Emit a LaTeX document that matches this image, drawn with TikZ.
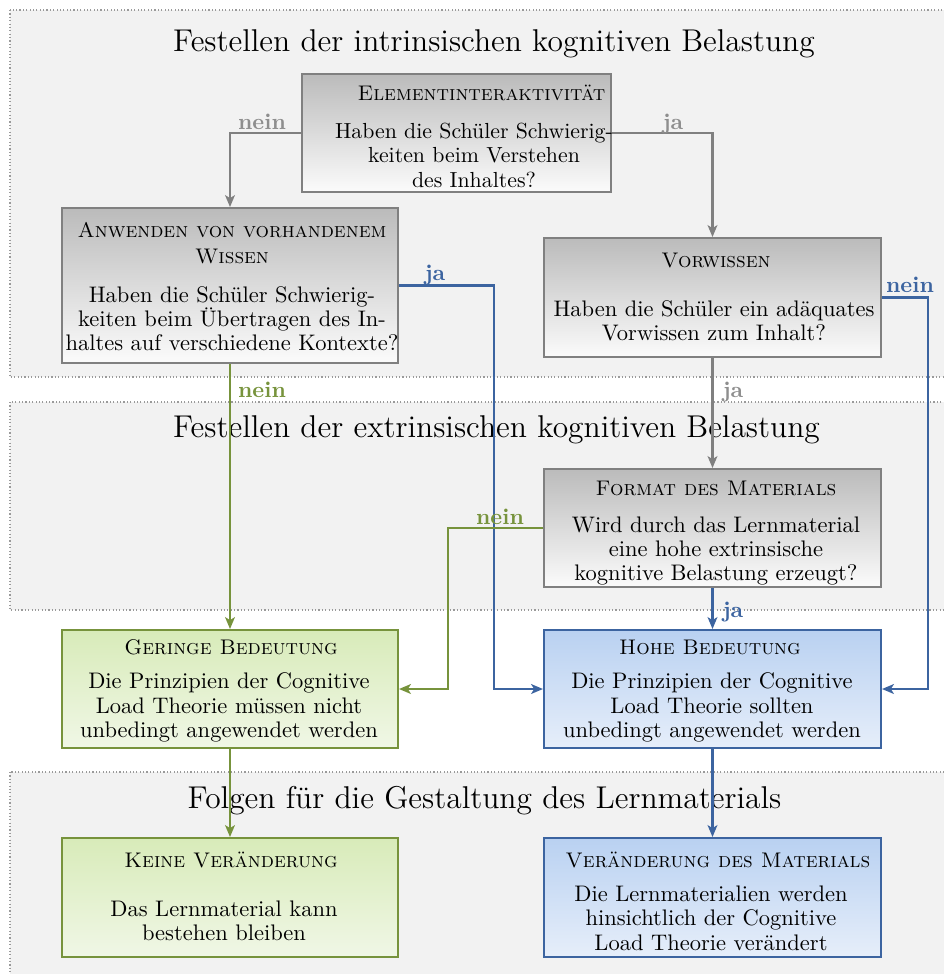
\documentclass[tikz,border=0pt]{standalone}
\usetikzlibrary{arrows.meta}
\definecolor{pnl}{HTML}{F2F2F2}
\definecolor{pnlb}{HTML}{9A9A9A}
\definecolor{grayline}{HTML}{808080}
\definecolor{graylbl}{HTML}{8E8E8E}
\definecolor{cblue}{HTML}{3C64A0}
\definecolor{cgreen}{HTML}{77933C}
\definecolor{gtop}{HTML}{BBBBBB}
\definecolor{gbot}{HTML}{FBFBFB}
\definecolor{grtop}{HTML}{D8EBB9}
\definecolor{grbot}{HTML}{F0F7E6}
\definecolor{bltop}{HTML}{B9D1F1}
\definecolor{blbot}{HTML}{E6EEFA}
\newcommand\pxl{0.4444pt}
\begin{document}
\begin{tikzpicture}[x=0.4444pt,y=-0.4444pt,
  panelbox/.style={fill=pnl, draw=pnlb, densely dotted, line width=0.5pt},
  ttl/.style={font=\fontsize{14}{17}\selectfont, anchor=base, inner sep=0},
  boxbase/.style={rectangle, inner sep=0, line width=0.9pt},
  graybox/.style={boxbase, draw=grayline, top color=gtop, bottom color=gbot},
  greenbox/.style={boxbase, draw=cgreen, top color=grtop, bottom color=grbot},
  bluebox/.style={boxbase, draw=cblue, top color=bltop, bottom color=blbot},
  hd/.style={font=\fontsize{9.4}{11.6}\selectfont\scshape, anchor=base, inner sep=0},
  hdm/.style={font=\fontsize{9.4}{11.6}\selectfont\scshape, align=center, inner sep=0},
  bd/.style={font=\fontsize{10}{10.8}\selectfont, align=center, inner sep=0},
  conn/.style={line width=0.9pt, -{Stealth[length=5.3pt,width=4.4pt,inset=1.4pt]}},
  lbl/.style={font=\fontsize{10}{12}\selectfont\bfseries, anchor=base, inner sep=0},
]
\useasboundingbox (0,0) rectangle (944,974);

% panels
\path[panelbox] (10,10) rectangle (990,377);
\path[panelbox] (10,402) rectangle (990,610);
\path[panelbox] (10,772) rectangle (990,1000);

% titles
\node[ttl] (t1) at (494,51) {Festellen der intrinsischen kognitiven Belastung};
\node[ttl] (t2) at (496.5,437) {Festellen der extrinsischen kognitiven Belastung};
\node[ttl] (t3) at (484.5,808) {Folgen für die Gestaltung des Lernmaterials};

% boxes
\node[graybox, minimum width=309*\pxl, minimum height=118*\pxl] (b1) at (456.5,133) {};
\node[graybox, minimum width=336*\pxl, minimum height=155*\pxl] (b2) at (230,285.5) {};
\node[graybox, minimum width=337*\pxl, minimum height=119*\pxl] (b3) at (712.5,297.5) {};
\node[graybox, minimum width=337*\pxl, minimum height=118*\pxl] (b4) at (712.5,528) {};
\node[greenbox, minimum width=336*\pxl, minimum height=118*\pxl] (b5) at (230,689) {};
\node[bluebox, minimum width=337*\pxl, minimum height=118*\pxl] (b6) at (712.5,689) {};
\node[greenbox, minimum width=336*\pxl, minimum height=119*\pxl] (b7) at (230,897.5) {};
\node[bluebox, minimum width=337*\pxl, minimum height=119*\pxl] (b8) at (712.5,897.5) {};

% box texts
\node[hd] (b1h) at (481.5,100) {Elementinteraktivität};
\node[bd, font=\fontsize{9.7}{10.8}\selectfont] (b1t) at (474,155.2) {Haben die Schüler Schwierig-\\keiten beim Verstehen\\des Inhaltes?};
\node[hdm] (b2h) at (232,242.8) {Anwenden von vorhandenem\\Wissen};
\node[bd] (b2t) at (232,318.7) {Haben die Schüler Schwierig-\\keiten beim Übertragen des In-\\haltes auf verschiedene Kontexte?};
\node[hd] (b3h) at (716,267) {Vorwissen};
\node[bd] (b3t) at (714,320.7) {Haben die Schüler ein adäquates\\Vorwissen zum Inhalt?};
\node[hd] (b4h) at (716,495) {Format des Materials};
\node[bd] (b4t) at (716,550.9) {Wird durch das Lernmaterial\\eine hohe extrinsische\\kognitive Belastung erzeugt?};
\node[hd] (b5h) at (231,654) {Geringe Bedeutung};
\node[bd] (b5t) at (229,707.4) {Die Prinzipien der Cognitive\\Load Theorie müssen nicht\\unbedingt angewendet werden};
\node[hd] (b6h) at (710,654) {Hohe Bedeutung};
\node[bd] (b6t) at (712,707.4) {Die Prinzipien der Cognitive\\Load Theorie sollten\\unbedingt angewendet werden};
\node[hd] (b7h) at (231,867) {Keine Veränderung};
\node[bd] (b7t) at (224,920.7) {Das Lernmaterial kann\\bestehen bleiben};
\node[hd] (b8h) at (718,867) {Veränderung des Materials};
\node[bd] (b8t) at (711,918.2) {Die Lernmaterialien werden\\hinsichtlich der Cognitive\\Load Theorie verändert};

% helper coordinates
\coordinate (xa) at (494,0);
\coordinate (xb) at (928,0);
\coordinate (xc) at (447.6,0);

% connectors
\draw[conn, grayline] (b1.west) -| (b2.north);
\draw[conn, grayline] (b1.east) -| (b3.north);
\draw[conn, grayline] (b3.south) -- (b4.north);
\draw[conn, cblue] (b2.east) -| (xa |- b6.west) -- (b6.west);
\draw[conn, cblue] (b3.east) -| (xb |- b6.east) -- (b6.east);
\draw[conn, cblue] (b4.south) -- (b6.north);
\draw[conn, cgreen] (b2.south) -- (b5.north);
\draw[conn, cgreen] (b4.west) -| (xc |- b5.east) -- (b5.east);
\draw[conn, cgreen] (b5.south) -- (b7.north);
\draw[conn, cblue] (b6.south) -- (b8.north);

% labels
\node[lbl, text=graylbl] (l1) at (262,129) {nein};
\node[lbl, text=graylbl] (l2) at (673,129) {ja};
\node[lbl, text=cblue] (l3) at (435,280) {ja};
\node[lbl, text=cblue] (l4) at (910,292) {nein};
\node[lbl, text=graylbl] (l5) at (733,397) {ja};
\node[lbl, text=cgreen] (l6) at (262,397) {nein};
\node[lbl, text=cgreen] (l7) at (500,524) {nein};
\node[lbl, text=cblue] (l8) at (733,617) {ja};
\end{tikzpicture}
\end{document}
